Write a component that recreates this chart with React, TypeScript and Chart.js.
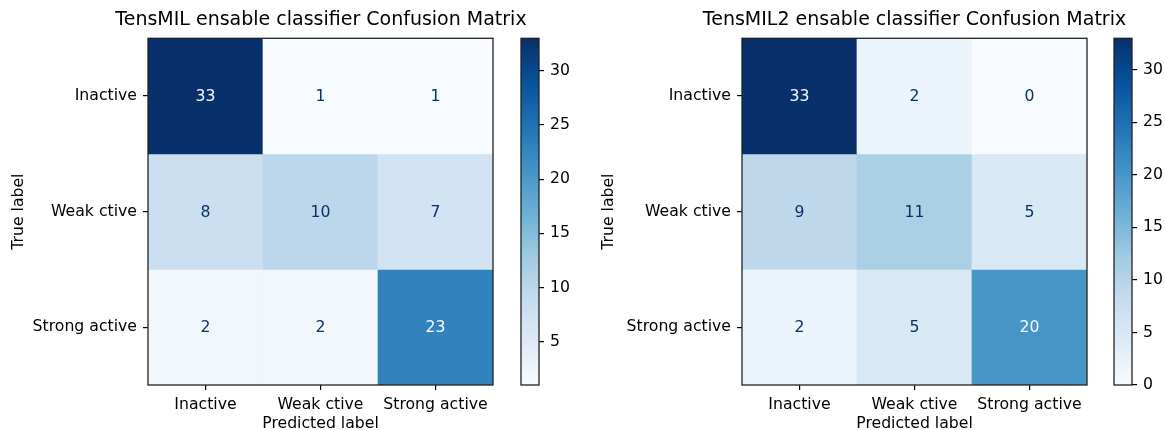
import React, { useEffect, useRef } from 'react';
import { Chart, registerables } from 'chart.js';

Chart.register(...registerables);

// ---------- data ----------
const predictedLabels = ['Inactive', 'Weak ctive', 'Strong active'];
const trueLabels = ['Inactive', 'Weak ctive', 'Strong active'];

const titleA = 'TensMIL ensable classifier Confusion Matrix';
const rowA0 = [33, 1, 1];
const rowA1 = [8, 10, 7];
const rowA2 = [2, 2, 23];
const vminA = 1;
const vmaxA = 33;
const cbTicksA = [5, 10, 15, 20, 25, 30];

const titleB = 'TensMIL2 ensable classifier Confusion Matrix';
const rowB0 = [33, 2, 0];
const rowB1 = [9, 11, 5];
const rowB2 = [2, 5, 20];
const vminB = 0;
const vmaxB = 33;
const cbTicksB = [0, 5, 10, 15, 20, 25, 30];

// ---------- style ----------
const FONT = 'DejaVu Sans';
const TICK_SIZE = 15.7;
const TITLE_SIZE = 19;
const TEXT = '#000000';
const FRAME = '#222222';

// matplotlib "Blues"
const BLUES: number[][] = [
  [247, 251, 255],
  [222, 235, 247],
  [198, 219, 239],
  [158, 202, 225],
  [107, 174, 214],
  [66, 146, 198],
  [33, 113, 181],
  [8, 81, 156],
  [8, 48, 107],
];

function blues(t: number): string {
  const tt = Math.max(0, Math.min(1, t));
  const n = BLUES.length - 1;
  const p = tt * n;
  const i = Math.min(Math.floor(p), n - 1);
  const f = p - i;
  const a = BLUES[i];
  const b = BLUES[i + 1];
  const c = a.map((v, k) => Math.round(v + (b[k] - v) * f));
  return `rgb(${c[0]},${c[1]},${c[2]})`;
}

const framePlugin = {
  id: 'frame',
  afterDraw(chart: any) {
    const { ctx, chartArea } = chart;
    ctx.save();
    ctx.strokeStyle = FRAME;
    ctx.lineWidth = 1.3;
    ctx.strokeRect(chartArea.left, chartArea.top, chartArea.right - chartArea.left, chartArea.bottom - chartArea.top);
    ctx.restore();
  },
};

const tickFont = { family: FONT, size: TICK_SIZE };

function MatrixChart(props: {
  title: string;
  rows: number[][];
  vmin: number;
  vmax: number;
  left: number;
  width: number;
  axisW: number;
}) {
  const ref = useRef<HTMLCanvasElement>(null);
  useEffect(() => {
    const { title, rows, vmin, vmax, width, axisW } = props;
    const thresh = (vmin + vmax) / 2;
    const rightW = width - axisW - 345;
    const datasets = rows.map((row, r) => ({
      label: trueLabels[r],
      data: row.map(() => [r - 0.5, r + 0.5]),
      backgroundColor: row.map((v) => blues((v - vmin) / (vmax - vmin))),
      borderWidth: 0,
      barPercentage: 1,
      categoryPercentage: 1,
      grouped: false,
      values: row,
    }));
    const cellText = {
      id: 'cellText',
      afterDatasetsDraw(chart: any) {
        const ctx = chart.ctx;
        ctx.save();
        ctx.font = `${TICK_SIZE}px "${FONT}"`;
        ctx.textAlign = 'center';
        ctx.textBaseline = 'middle';
        chart.data.datasets.forEach((ds: any, di: number) => {
          const meta = chart.getDatasetMeta(di);
          meta.data.forEach((el: any, i: number) => {
            const { x, y, base } = el.getProps(['x', 'y', 'base'], true);
            const v = ds.values[i];
            ctx.fillStyle = v >= thresh ? blues(0) : blues(1);
            ctx.fillText(String(v), x, (y + base) / 2 + 1);
          });
        });
        ctx.restore();
      },
    };
    const chart = new Chart(ref.current as HTMLCanvasElement, {
      type: 'bar',
      data: { labels: predictedLabels, datasets: datasets as any },
      options: {
        responsive: false,
        animation: false,
        layout: { padding: 0 },
        plugins: {
          legend: { display: false },
          tooltip: { enabled: false },
          title: {
            display: true,
            text: title,
            color: TEXT,
            font: { family: FONT, size: TITLE_SIZE, weight: 'normal', lineHeight: 1.2 },
            padding: { top: 9, bottom: 6.5 },
          },
        },
        scales: {
          x: {
            type: 'category',
            offset: true,
            grid: { offset: false, drawOnChartArea: false, drawTicks: true, tickLength: 5, color: TEXT, lineWidth: 1.2 },
            border: { display: false },
            ticks: { font: tickFont, color: TEXT, padding: 6, maxRotation: 0, minRotation: 0, autoSkip: false },
            title: {
              display: true,
              text: 'Predicted label',
              color: TEXT,
              font: { family: FONT, size: TICK_SIZE, lineHeight: 0.8 },
              padding: 0,
            },
            afterFit: (s: any) => {
              s.height = 45;
            },
          },
          y: {
            type: 'linear',
            min: -0.5,
            max: 2.5,
            reverse: true,
            afterBuildTicks: (s: any) => {
              s.ticks = trueLabels.map((_, i) => ({ value: i }));
            },
            grid: { drawOnChartArea: false, drawTicks: true, tickLength: 5, color: TEXT, lineWidth: 1.2 },
            border: { display: false },
            ticks: {
              font: tickFont,
              color: TEXT,
              padding: 6,
              callback: (v: any) => trueLabels[Math.round(Number(v))] ?? '',
            },
            title: {
              display: true,
              text: 'True label',
              color: TEXT,
              font: { family: FONT, size: TICK_SIZE, lineHeight: 1.2 },
              padding: { top: 10, bottom: 0 },
            },
            afterFit: (s: any) => {
              s.width = axisW;
            },
          },
          yR: {
            type: 'linear',
            position: 'right',
            display: true,
            grid: { display: false },
            border: { display: false },
            ticks: { display: false },
            afterFit: (s: any) => {
              s.width = rightW;
            },
          },
        },
      } as any,
      plugins: [cellText, framePlugin],
    });
    return () => chart.destroy();
  }, []);
  return (
    <canvas
      ref={ref}
      width={props.width}
      height={430}
      style={{ position: 'absolute', left: props.left, top: 0, width: props.width, height: 430 }}
    />
  );
}

function Colorbar(props: { vmin: number; vmax: number; ticks: number[]; left: number; width: number }) {
  const ref = useRef<HTMLCanvasElement>(null);
  useEffect(() => {
    const { vmin, vmax, ticks, width } = props;
    const chart = new Chart(ref.current as HTMLCanvasElement, {
      type: 'bar',
      data: {
        labels: [''],
        datasets: [
          {
            data: [[vmin, vmax]] as any,
            borderWidth: 0,
            barPercentage: 1,
            categoryPercentage: 1,
            backgroundColor: (c: any) => {
              const ca = c.chart.chartArea;
              if (!ca) return blues(0.5);
              const g = c.chart.ctx.createLinearGradient(0, ca.bottom, 0, ca.top);
              BLUES.forEach((_, i) => g.addColorStop(i / (BLUES.length - 1), blues(i / (BLUES.length - 1))));
              return g;
            },
          },
        ],
      },
      options: {
        responsive: false,
        animation: false,
        layout: { padding: { left: 16, top: 38.3, bottom: 45, right: 0 } },
        plugins: { legend: { display: false }, tooltip: { enabled: false } },
        scales: {
          x: { display: false, offset: true },
          y: {
            type: 'linear',
            position: 'right',
            min: vmin,
            max: vmax,
            afterBuildTicks: (s: any) => {
              s.ticks = ticks.map((v) => ({ value: v }));
            },
            grid: { drawOnChartArea: false, drawTicks: true, tickLength: 5, color: TEXT, lineWidth: 1.2 },
            border: { display: false },
            ticks: { font: tickFont, color: TEXT, padding: 6 },
            afterFit: (s: any) => {
              s.width = width - 16 - 18;
            },
          },
        },
      } as any,
      plugins: [framePlugin],
    });
    return () => chart.destroy();
  }, []);
  return (
    <canvas
      ref={ref}
      width={props.width}
      height={430}
      style={{ position: 'absolute', left: props.left, top: 0, width: props.width, height: 430 }}
    />
  );
}

export default function App() {
  return (
    <div
      style={{
        position: 'fixed',
        left: 0,
        top: 0,
        width: 1165,
        height: 430,
        overflow: 'hidden',
        background: '#ffffff',
      }}
    >
      <MatrixChart title={titleA} rows={[rowA0, rowA1, rowA2]} vmin={vminA} vmax={vmaxA} left={0} width={642} axisW={148} />
      <MatrixChart title={titleB} rows={[rowB0, rowB1, rowB2]} vmin={vminB} vmax={vmaxB} left={590} width={649} axisW={152} />
      <Colorbar vmin={vminA} vmax={vmaxA} ticks={cbTicksA} left={505} width={75} />
      <Colorbar vmin={vminB} vmax={vmaxB} ticks={cbTicksB} left={1098} width={67} />
    </div>
  );
}
